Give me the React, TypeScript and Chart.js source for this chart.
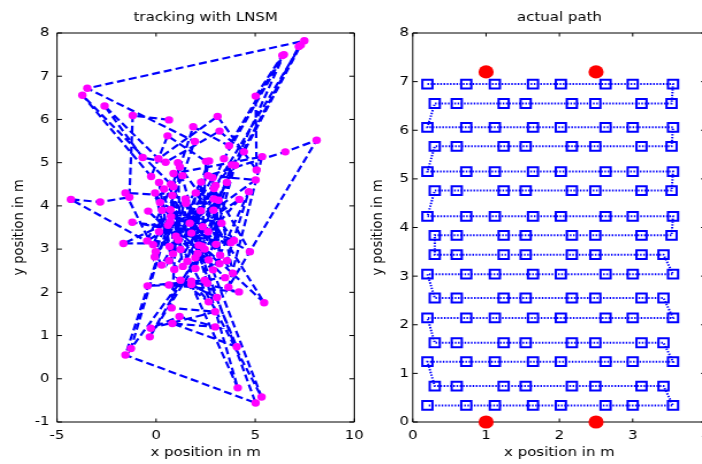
import React, { useEffect, useRef } from 'react';
import Chart from 'chart.js/auto';

const FONT = '"DejaVu Sans", "Liberation Sans", Arial, sans-serif';
const SX = 1.15; // horizontal stretch of the reference image

// ---- left panel: LNSM estimates, in path order ----
const lnsmX = [
  0.65, -1.18, -1.35, -2.82, -4.3, -0.15, 1.33, 1.95, -3.47, 7.48,
  7.2, 2.35, 2.52, 0.58, -0.25, -3.72, 0.87, 1.87, 3.68, 6.37,
  5.02, 5.07, 3.1, 0.12, -2.6, -0.68, 0.48, 3.2, 4.43, 7.3,
  2.25, 3.42, 6.45, 2.9, 5.02, 2.62, 6.52, 8.1, 3.65, 5.35,
  0.88, 1.23, 1.1, 2.32, 3.82, 0.68, 0.15, 1.58, 2.67, 0.85,
  0.75, 2.65, 3.98, 1.98, 2.27, -0.07, 0.4, 3.23, 2.85, 0.28,
  -1.55, 0.82, 1.35, 3.57, 0.92, -0.05, 1.98, 2.92, 4.73, 0.2,
  3.2, 3.0, 0.65, 1.48, 3.57, 4.68, 2.87, -0.4, 1.12, 4.2,
  2.15, 1.5, 3.87, 3.15, -0.02, 0.72, 3.02, 2.92, -0.45, 1.2,
  3.93, 0.75, 5.45, 2.0, 1.78, -1.2, 2.62, 0.15, 3.78, -1.65,
  0.7, 3.48, 2.45, -0.43, 2.58, 0.65, 4.18, 1.78, 2.65, 1.23,
  3.07, 1.78, 4.12, 1.7, 5.02, -1.55, 0.6, -1.27, 2.45, 5.32,
  1.0, 0.78, 2.98, -0.27, 1.18, 2.98, 0.82, 4.07, 2.1, -0.32,
  3.3, 0.3,
];
const lnsmY = [
  5.99, 6.09, 4.2, 4.09, 4.15, 3.1, 4.7, 5.49, 6.72, 7.82,
  7.69, 3.52, 5.03, 5.62, 4.68, 6.56, 4.44, 5.83, 5.39, 7.48,
  6.54, 4.83, 6.07, 5.09, 6.31, 5.12, 5.01, 5.73, 5.25, 7.72,
  3.89, 5.09, 7.5, 3.9, 4.6, 4.7, 5.25, 5.52, 2.12, 5.14,
  4.75, 2.99, 5.0, 3.07, 4.95, 3.06, 4.54, 2.72, 5.04, 2.89,
  4.5, 2.75, 4.94, 2.55, 4.55, 2.82, 4.39, 2.86, 4.65, 2.63,
  4.3, 4.24, 2.6, 4.54, 2.53, 4.3, 2.8, 4.4, 2.94, 4.08,
  2.66, 4.47, 2.73, 4.16, 2.73, 4.33, 2.52, 3.88, 3.21, 4.15,
  3.09, 4.06, 2.44, 4.13, 2.94, 3.91, 3.11, 4.16, 3.19, 4.9,
  3.2, 3.75, 1.76, 4.3, 3.37, 3.62, 3.4, 3.4, 3.15, 3.13,
  3.63, 2.34, 2.28, 2.15, 2.21, 2.17, 2.01, 2.26, 1.78, 2.28,
  1.88, 2.18, -0.21, 3.6, -0.56, 0.55, 3.55, 0.7, 3.0, -0.42,
  3.3, 1.64, 1.55, 1.17, 1.44, 1.2, 1.28, 0.74, 2.9, 0.97,
  3.6, 3.9,
];

// ---- right panel: actual serpentine path ----
const pathRowY = [6.95, 6.55, 6.06, 5.67, 5.15, 4.76, 4.23, 3.84, 3.44, 3.04, 2.55, 2.14, 1.63, 1.24, 0.74, 0.34];
const pathRowType = ['L', 'S', 'L', 'S', 'L', 'S', 'L', 'S', 's', 'L', 's', 'L', 's', 'L', 's', 'L'];
const colsLong = [0.2, 0.73, 1.12, 1.64, 2.02, 2.63, 3.0, 3.55];
const colsShort = [0.3, 0.6, 1.24, 1.54, 2.17, 2.49, 3.12, 3.53];
const colsShortLow = [0.3, 0.6, 1.24, 1.54, 2.17, 2.49, 3.12, 3.42];
const anchorX = [1, 2.5, 1, 2.5];
const anchorY = [7.2, 7.2, 0, 0];

const lnsmPts = lnsmX.map((x, i) => ({ x, y: lnsmY[i] }));
const pathPts: { x: number; y: number }[] = [];
pathRowY.forEach((y, r) => {
  const t = pathRowType[r];
  const cols = t === 'L' ? colsLong : t === 'S' ? colsShort : colsShortLow;
  const ordered = r % 2 === 0 ? cols : [...cols].reverse();
  ordered.forEach((x) => pathPts.push({ x, y }));
});
const anchorPts = anchorX.map((x, i) => ({ x, y: anchorY[i] }));

const framePlugin = {
  id: 'matlabFrame',
  beforeDatasetsDraw(chart: any) {
    const { ctx, chartArea } = chart;
    const { left, right, top, bottom } = chartArea;
    const xs = chart.scales.x;
    const ys = chart.scales.y;
    const xl = 3.5;
    const yl = 4.3;
    ctx.save();
    ctx.strokeStyle = '#000';
    ctx.lineWidth = 1;
    ctx.beginPath();
    ctx.rect(left, top, right - left, bottom - top);
    xs.ticks.forEach((t: any) => {
      const p = xs.getPixelForValue(t.value);
      ctx.moveTo(p, bottom);
      ctx.lineTo(p, bottom - xl);
      ctx.moveTo(p, top);
      ctx.lineTo(p, top + xl);
    });
    ys.ticks.forEach((t: any) => {
      const p = ys.getPixelForValue(t.value);
      ctx.moveTo(left, p);
      ctx.lineTo(left + yl, p);
      ctx.moveTo(right, p);
      ctx.lineTo(right - yl, p);
    });
    ctx.stroke();
    ctx.restore();
  },
};

function makeOptions(p: {
  title: string;
  xmin: number; xmax: number; xstep: number;
  ymin: number; ymax: number; ystep: number;
  yWidth: number; yTickPad: number; yTitlePad: number; rightPad: number;
}) {
  const font = { family: FONT, size: 13, weight: 'normal' as const };
  return {
    responsive: false,
    devicePixelRatio: 1,
    animation: false as const,
    events: [],
    layout: { padding: { left: 0, right: p.rightPad, top: 0, bottom: 0 }, autoPadding: false },
    plugins: {
      legend: { display: false },
      tooltip: { enabled: false },
      title: {
        display: true,
        text: p.title,
        fullSize: false,
        color: '#000',
        font,
        padding: { top: 9.5, bottom: 7.9 },
      },
    },
    scales: {
      x: {
        type: 'linear' as const,
        position: 'bottom' as const,
        min: p.xmin,
        max: p.xmax,
        ticks: { stepSize: p.xstep, color: '#000', font, padding: 5.4, maxRotation: 0, autoSkip: false },
        grid: { display: false, drawTicks: false },
        border: { display: false },
        title: { display: true, text: 'x position in m', color: '#000', font, padding: { top: 0, bottom: 3.7 } },
        afterFit: (s: any) => { s.height = 42; },
      },
      y: {
        type: 'linear' as const,
        position: 'left' as const,
        min: p.ymin,
        max: p.ymax,
        ticks: { stepSize: p.ystep, color: '#000', font, padding: p.yTickPad, autoSkip: false },
        grid: { display: false, drawTicks: false },
        border: { display: false },
        title: { display: true, text: 'y position in m', color: '#000', font, padding: { top: p.yTitlePad, bottom: 0 } },
        afterFit: (s: any) => { s.width = p.yWidth; },
      },
    },
  };
}

export default function App() {
  const leftRef = useRef<HTMLCanvasElement>(null);
  const rightRef = useRef<HTMLCanvasElement>(null);

  useEffect(() => {
    const c1 = new Chart(leftRef.current as HTMLCanvasElement, {
      type: 'scatter',
      data: {
        datasets: [
          {
            label: 'LNSM',
            data: lnsmPts,
            showLine: true,
            borderColor: '#0000ff',
            borderWidth: 2.2,
            borderDash: [7, 3.5],
            pointRadius: 3.7,
            pointBackgroundColor: '#ff00ff',
            pointBorderColor: '#ff00ff',
            pointBorderWidth: 0,
            clip: false,
          } as any,
        ],
      },
      options: makeOptions({
        title: 'tracking with LNSM',
        xmin: -5, xmax: 10, xstep: 5,
        ymin: -1, ymax: 8, ystep: 1,
        yWidth: 49.6, yTickPad: 6.5, yTitlePad: 8.6, rightPad: 11,
      }) as any,
      plugins: [framePlugin],
    });
    const c2 = new Chart(rightRef.current as HTMLCanvasElement, {
      type: 'scatter',
      data: {
        datasets: [
          {
            label: 'anchors',
            data: anchorPts,
            showLine: false,
            pointRadius: 6.6,
            pointBackgroundColor: '#ff0000',
            pointBorderColor: '#ff0000',
            pointBorderWidth: 0,
            clip: false,
          } as any,
          {
            label: 'path',
            data: pathPts,
            showLine: true,
            borderColor: '#0000ff',
            borderWidth: 2,
            borderDash: [1.4, 1.4],
            pointStyle: 'rect',
            pointRadius: 6.2,
            pointBorderWidth: 2,
            pointBorderColor: '#0000ff',
            pointBackgroundColor: 'rgba(0,0,0,0)',
            clip: false,
          } as any,
        ],
      },
      options: makeOptions({
        title: 'actual path',
        xmin: 0, xmax: 4, xstep: 1,
        ymin: 0, ymax: 8, ystep: 1,
        yWidth: 45.8, yTickPad: 3.2, yTitlePad: 7.7, rightPad: 8.5,
      }) as any,
      plugins: [framePlugin],
    });
    return () => {
      c1.destroy();
      c2.destroy();
    };
  }, []);

  return (
    <div style={{ position: 'fixed', left: 0, top: 0, width: 702, height: 464, overflow: 'hidden', background: '#fff' }}>
      <canvas
        ref={leftRef}
        width={322}
        height={464}
        style={{ position: 'absolute', left: 0, top: 0, width: `${322 * SX}px`, height: '464px' }}
      />
      <canvas
        ref={rightRef}
        width={310}
        height={464}
        style={{ position: 'absolute', left: 360, top: 0, width: `${310 * SX}px`, height: '464px' }}
      />
    </div>
  );
}
